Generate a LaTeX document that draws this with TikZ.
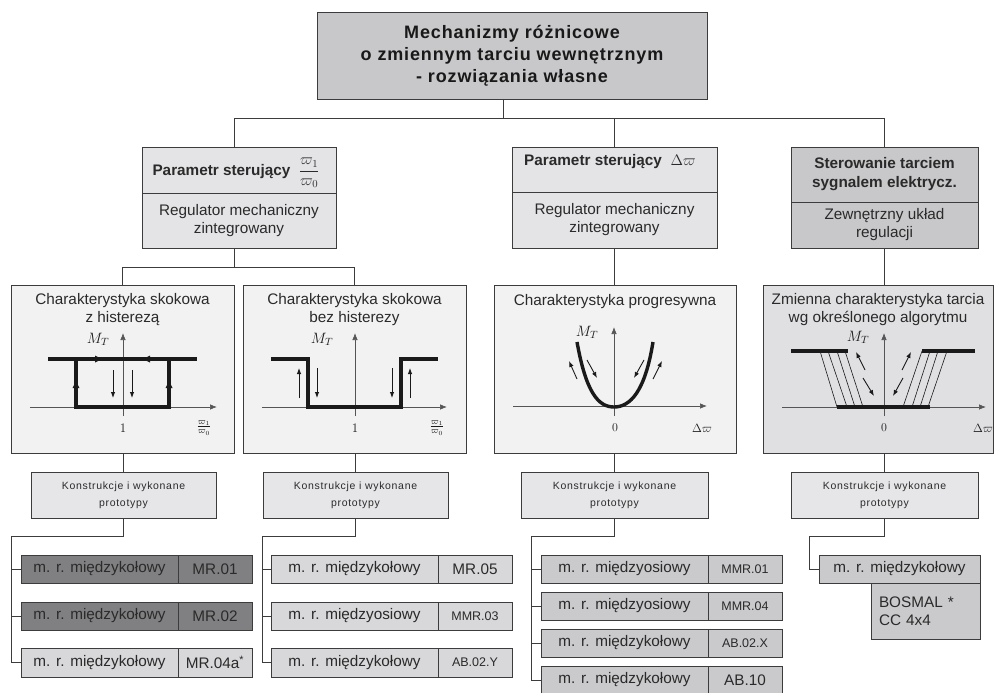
\RequirePackage{fix-cm}
\documentclass[tikz,border=0pt]{standalone}
\usepackage[no-math]{fontspec}
\setmainfont{Liberation Sans}
\newfontfamily\titlefont[LetterSpace=4.8]{Liberation Sans}
\newfontfamily\konfont[LetterSpace=6.5]{Liberation Sans}
\usetikzlibrary{arrows.meta}
\definecolor{bordc}{HTML}{3C3C3C}
\definecolor{txtc}{HTML}{2A2A2A}
\definecolor{topfill}{HTML}{C8C8CA}
\definecolor{parfill}{HTML}{E4E4E6}
\definecolor{parfillB}{HTML}{C8C8CA}
\definecolor{charfill}{HTML}{F2F2F2}
\definecolor{charfillB}{HTML}{E0E0E2}
\definecolor{konfill}{HTML}{E6E6E8}
\definecolor{darkitem}{HTML}{808082}
\definecolor{lightitem}{HTML}{D8D8DA}
\definecolor{miditem}{HTML}{CACACC}
\definecolor{axc}{HTML}{555555}
\definecolor{curvec}{HTML}{1A1A1A}
\newcommand\bxn[7]{%
  \pgfmathsetmacro\bxcx{(#2+#4)/2}%
  \pgfmathsetmacro\bxcy{(#3+#5)/2}%
  \pgfmathsetmacro\bxw{#4-#2}%
  \pgfmathsetmacro\bxh{#5-#3}%
  \node[bx,#6,minimum width=\bxw pt,minimum height=\bxh pt] (#1) at (\bxcx,\bxcy) {#7};}
\begin{document}
\begin{tikzpicture}[x=1pt,y=-1pt,
  bx/.style={draw=bordc,line width=0.9pt,inner sep=0pt,outer sep=0pt,align=center,text=txtc},
  conn/.style={draw=bordc,line width=0.8pt},
  ax/.style={draw=axc,line width=0.7pt,-{Latex[length=7pt,width=5.5pt]}},
  thk/.style={draw=curvec,line width=3.4pt},
  tarr/.style={draw=curvec,line width=0.9pt,-{Latex[length=6pt,width=4.5pt]}},
  thin/.style={draw=curvec,line width=0.6pt},
  f15/.style={font=\fontsize{15.3}{18}\selectfont},
  ftitle/.style={font=\titlefont\bfseries\fontsize{18}{22}\selectfont},
  fpar/.style={font=\bfseries\fontsize{15.3}{19}\selectfont},
  fkon/.style={font=\konfont\fontsize{10.5}{17}\selectfont},
  fcode/.style={font=\fontsize{12.5}{15}\selectfont},
  lab/.style={inner sep=0pt,text=txtc},
  mlab/.style={inner sep=0pt,text=curvec,font=\fontsize{15}{17}\selectfont},
]
\useasboundingbox (0,0) rectangle (994,693);
\fill[white] (0,0) rectangle (994,693);

% ---------- top ----------
\bxn{top}{317}{12}{707}{99}{fill=topfill,ftitle,text=black!90}{Mechanizmy różnicowe\\o zmiennym tarciu wewnętrznym\\- rozwiązania własne}

% ---------- parameter boxes ----------
\bxn{p1a}{142}{147}{336}{193}{fill=parfill}{}
\node[lab,fpar] (p1t) at (236,173) {Parametr sterujący\ \ ${\displaystyle\frac{\varpi_1}{\varpi_0}}$};
\bxn{p1b}{142}{193}{336}{248}{fill=parfill,f15}{Regulator mechaniczny\\zintegrowany}

\bxn{p2a}{512}{147}{717}{192}{fill=parfill}{}
\node[lab,fpar] (p2t) at (610,162) {Parametr sterujący\ \ $\Delta\varpi$};
\bxn{p2b}{512}{192}{717}{248}{fill=parfill,f15}{Regulator mechaniczny\\zintegrowany}

\bxn{p3a}{791}{147}{978}{202}{fill=parfillB,fpar}{Sterowanie tarciem\\sygnalem elektrycz.}
\bxn{p3b}{791}{202}{978}{248}{fill=parfillB,f15}{Zewnętrzny układ\\regulacji}

% ---------- characteristic boxes ----------
\bxn{c1}{11}{285}{234}{453}{fill=charfill}{}
\bxn{c2}{243}{285}{466}{453}{fill=charfill}{}
\bxn{c3}{494}{285}{736}{453}{fill=charfill}{}
\bxn{c4}{763}{285}{993}{453}{fill=charfillB}{}
\node[lab,f15,align=center] (c1t) at (122.5,310) {Charakterystyka skokowa\\z histerezą};
\node[lab,f15,align=center] (c2t) at (354.5,310) {Charakterystyka skokowa\\bez histerezy};
\node[lab,f15] (c3t) at (615,302) {Charakterystyka progresywna};
\node[lab,f15,align=center] (c4t) at (878,310) {Zmienna charakterystyka tarcia\\wg określonego algorytmu};

% chart 1
\draw[ax] (30,407) -- (217,407);
\draw[ax] (123,416) -- (123,333);
\draw[thk] (48,359) -- (197,359);
\draw[thk,line join=miter] (76,359) -- (76,407) -- (169,407) -- (169,359);
\fill[curvec] (95,355.5) -- (102,359) -- (95,362.5) -- cycle;
\fill[curvec] (150,355.5) -- (143,359) -- (150,362.5) -- cycle;
\fill[curvec] (72.5,388) -- (76,381) -- (79.5,388) -- cycle;
\fill[curvec] (165.5,388) -- (169,381) -- (172.5,388) -- cycle;
\draw[tarr] (113,370) -- (113,398);
\draw[tarr] (132,370) -- (132,398);
\node[mlab] (m1) at (98,339) {$M_T$};
\node[mlab,font=\fontsize{13}{15}\selectfont] (o1) at (123,428) {$1$};
\node[mlab,font=\fontsize{12.5}{14}\selectfont] (f1) at (204,428) {$\frac{\varpi_1}{\varpi_0}$};

% chart 2
\draw[ax] (262,407) -- (447,407);
\draw[ax] (355,416) -- (355,333);
\draw[thk,line join=miter] (271,359) -- (308,359) -- (308,407) -- (401,407) -- (401,359) -- (438,359);
\draw[tarr] (299,398) -- (299,368);
\draw[tarr] (410,398) -- (410,368);
\draw[tarr] (317,368) -- (317,398);
\draw[tarr] (392,368) -- (392,398);
\node[mlab] (m2) at (322,339) {$M_T$};
\node[mlab,font=\fontsize{13}{15}\selectfont] (o2) at (355,428) {$1$};
\node[mlab,font=\fontsize{12.5}{14}\selectfont] (f2) at (437,428) {$\frac{\varpi_1}{\varpi_0}$};

% chart 3
\draw[ax] (513,406) -- (707,406);
\draw[ax] (614,416) -- (614,327);
\draw[thk] (577,342) .. controls (586,392) and (598,407) .. (614,407) .. controls (630,407) and (645,392) .. (653,342);
\draw[tarr] (577,379) -- (569,361);
\draw[tarr] (587,360) -- (597,378);
\draw[tarr] (644,360) -- (634,378);
\draw[tarr] (653,379) -- (662,361);
\node[mlab] (m3) at (587,332) {$M_T$};
\node[mlab,font=\fontsize{12}{14}\selectfont] (o3) at (615,428) {$0$};
\node[mlab,font=\fontsize{12}{14}\selectfont] (d3) at (702,428) {$\Delta\varpi$};

% chart 4
\draw[ax] (782,407) -- (986,407);
\draw[ax] (884,416) -- (884,333);
\foreach \a/\b in {820/837,828/847,837/855,845/863} \draw[thin] (\a,351) -- (\b,407);
\foreach \a/\b in {922/903,930/912,938/920,947/928} \draw[thin] (\a,351) -- (\b,407);
\draw[thk] (791,351) -- (848,351);
\draw[thk] (922,351) -- (975,351);
\draw[thk] (837,407) -- (930,407);
\draw[tarr] (865,370) -- (856,352);
\draw[tarr] (863,378) -- (874,396);
\draw[tarr] (902,370) -- (911,352);
\draw[tarr] (903,378) -- (893,396);
\node[mlab] (m4) at (858,337) {$M_T$};
\node[mlab,font=\fontsize{12}{14}\selectfont] (o4) at (884,428) {$0$};
\node[mlab,font=\fontsize{12}{14}\selectfont] (d4) at (983,428) {$\Delta\varpi$};

% ---------- Konstrukcje boxes ----------
\bxn{k1}{31}{472}{216}{518}{fill=konfill,fkon}{Konstrukcje i wykonane\\prototypy}
\bxn{k2}{263}{472}{448}{518}{fill=konfill,fkon}{Konstrukcje i wykonane\\prototypy}
\bxn{k3}{521}{472}{708}{518}{fill=konfill,fkon}{Konstrukcje i wykonane\\prototypy}
\bxn{k4}{791}{472}{978}{518}{fill=konfill,fkon}{Konstrukcje i wykonane\\prototypy}

% ---------- items ----------
% column 1
\bxn{a1l}{21}{555}{178}{583}{fill=darkitem,f15}{m. r. międzykołowy}
\bxn{a1r}{178}{555}{252}{583}{fill=darkitem,f15}{MR.01}
\bxn{a2l}{21}{602}{178}{630}{fill=darkitem,f15}{m. r. międzykołowy}
\bxn{a2r}{178}{602}{252}{630}{fill=darkitem,f15}{MR.02}
\bxn{a3l}{21}{648}{178}{677}{fill=lightitem,f15}{m. r. międzykołowy}
\bxn{a3r}{178}{648}{252}{677}{fill=lightitem,f15}{MR.04a\textsuperscript{*}}
% column 2
\bxn{b1l}{271}{555}{438}{583}{fill=lightitem,f15}{m. r. międzykołowy}
\bxn{b1r}{438}{555}{512}{583}{fill=lightitem,f15}{MR.05}
\bxn{b2l}{271}{602}{438}{630}{fill=lightitem,f15}{m. r. międzyosiowy}
\bxn{b2r}{438}{602}{512}{630}{fill=lightitem,fcode}{MMR.03}
\bxn{b3l}{271}{648}{438}{677}{fill=lightitem,f15}{m. r. międzykołowy}
\bxn{b3r}{438}{648}{512}{677}{fill=lightitem,fcode}{AB.02.Y}
% column 3
\bxn{e1l}{541}{555}{708}{583}{fill=miditem,f15}{m. r. międzyosiowy}
\bxn{e1r}{708}{555}{782}{583}{fill=miditem,fcode}{MMR.01}
\bxn{e2l}{541}{592}{708}{620}{fill=miditem,f15}{m. r. międzyosiowy}
\bxn{e2r}{708}{592}{782}{620}{fill=miditem,fcode}{MMR.04}
\bxn{e3l}{541}{629}{708}{657}{fill=miditem,f15}{m. r. międzykołowy}
\bxn{e3r}{708}{629}{782}{657}{fill=miditem,fcode}{AB.02.X}
\bxn{e4l}{541}{666}{708}{694}{fill=miditem,f15}{m. r. międzykołowy}
\bxn{e4r}{708}{666}{782}{694}{fill=miditem,f15}{AB.10}
% column 4
\bxn{g1}{819}{555}{980}{583}{fill=miditem,f15}{m. r. międzykołowy}
\bxn{g2}{871}{583}{980}{639}{fill=miditem,f15,text width=93pt,align=left}{BOSMAL *\\CC 4x4}

% ---------- connectors ----------
\coordinate (jt) at (503,118);
\coordinate (h1) at (234,118);
\coordinate (h2) at (614,118);
\coordinate (h3) at (884,118);
\draw[conn] (jt |- top.south) -- (jt);
\draw[conn] (h1) -- (h3);
\draw[conn] (h1) -- (h1 |- p1a.north);
\draw[conn] (h2) -- (h2 |- p2a.north);
\draw[conn] (h3) -- (h3 |- p3a.north);

\coordinate (h4) at (234,267);
\draw[conn] (h4 |- p1b.south) -- (h4);
\draw[conn] (c1.north |- h4) -- (c2.north |- h4);
\draw[conn] (c1.north |- h4) -- (c1.north);
\draw[conn] (c2.north |- h4) -- (c2.north);
\draw[conn] (h2 |- p2b.south) -- (h2 |- c3.north);
\draw[conn] (h3 |- p3b.south) -- (h3 |- c4.north);

\draw[conn] (k1.north |- c1.south) -- (k1.north);
\draw[conn] (k2.north |- c2.south) -- (k2.north);
\draw[conn] (h2 |- c3.south) -- (h2 |- k3.north);
\draw[conn] (h3 |- c4.south) -- (h3 |- k4.north);

\coordinate (v1) at (11,536);
\draw[conn] (k1.south) |- (v1) |- (a3l.west);
\draw[conn] (v1 |- a1l.west) -- (a1l.west);
\draw[conn] (v1 |- a2l.west) -- (a2l.west);

\coordinate (v2) at (262,536);
\draw[conn] (k2.south) |- (v2) |- (b3l.west);
\draw[conn] (v2 |- b1l.west) -- (b1l.west);
\draw[conn] (v2 |- b2l.west) -- (b2l.west);

\coordinate (v3) at (531,536);
\draw[conn] (k3.south) |- (v3) |- (e4l.west);
\draw[conn] (v3 |- e1l.west) -- (e1l.west);
\draw[conn] (v3 |- e2l.west) -- (e2l.west);
\draw[conn] (v3 |- e3l.west) -- (e3l.west);

\coordinate (v4) at (809,536);
\draw[conn] (k4.south) |- (v4) |- (g1.west);
\end{tikzpicture}
\end{document}
